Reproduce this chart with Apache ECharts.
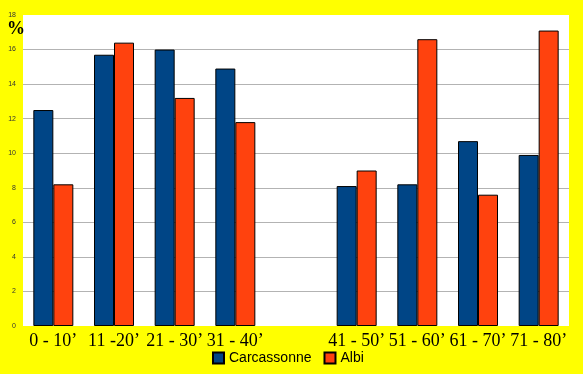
<!DOCTYPE html>
<html>
<head>
<meta charset="utf-8">
<script src="https://cdn.jsdelivr.net/npm/echarts@6/dist/echarts.min.js"></script>
<style>html,body{margin:0;padding:0;background:#ffff00;}#c{width:583px;height:374px;}</style>
</head>
<body>
<div id="c"></div>
<script>
const categories = ["0 - 10\u2019", "11 -20\u2019", "21 - 30\u2019", "31 - 40\u2019", "", "41 - 50\u2019", "51 - 60\u2019", "61 - 70\u2019", "71 - 80\u2019"];
const carcassonne = [12.5, 15.7, 16.0, 14.9, null, 8.1, 8.2, 10.7, 9.9];
const albi = [8.2, 16.4, 13.2, 11.8, null, 9.0, 16.6, 7.6, 17.1];
const seriesNames = ["Carcassonne", "Albi"];
const yTicks = { min: 0, max: 18, interval: 2 };

const chart = echarts.init(document.getElementById('c'));
chart.setOption({
  backgroundColor: '#ffff00',
  animation: false,
  grid: { left: 23, right: 14, top: 15, bottom: 48, show: true, backgroundColor: '#ffffff', borderWidth: 0 },
  legend: {
    data: seriesNames,
    left: 212, top: 351,
    itemWidth: 11, itemHeight: 11, itemGap: 12,
    textStyle: { fontFamily: 'Liberation Sans', fontSize: 14, color: '#000' },
    icon: 'rect',
    padding: 0
  },
  graphic: [{
    type: 'text', left: 7, top: 20,
    style: { text: '%', font: 'bold 18px "Liberation Serif"', fill: '#000' }
  }],
  xAxis: {
    type: 'category', data: categories,
    axisLine: { show: false }, axisTick: { show: false },
    axisLabel: { fontFamily: 'Liberation Serif', fontSize: 18, color: '#000', margin: 6, interval: 0 }
  },
  yAxis: {
    type: 'value', min: yTicks.min, max: yTicks.max, interval: yTicks.interval,
    axisLine: { show: false }, axisTick: { show: false },
    axisLabel: { fontFamily: 'Liberation Sans', fontSize: 7, color: '#333', margin: 7 },
    splitLine: { show: true, showMinLine: false, showMaxLine: false, lineStyle: { color: '#b3b3b3', width: 1 } }
  },
  series: [
    { name: seriesNames[0], type: 'bar', data: carcassonne, barWidth: 20, barGap: '0%',
      itemStyle: { color: '#004586', borderColor: '#000', borderWidth: 1 } },
    { name: seriesNames[1], type: 'bar', data: albi, barWidth: 20, barGap: '0%',
      itemStyle: { color: '#ff420e', borderColor: '#000', borderWidth: 1 } }
  ]
});
</script>
</body>
</html>
